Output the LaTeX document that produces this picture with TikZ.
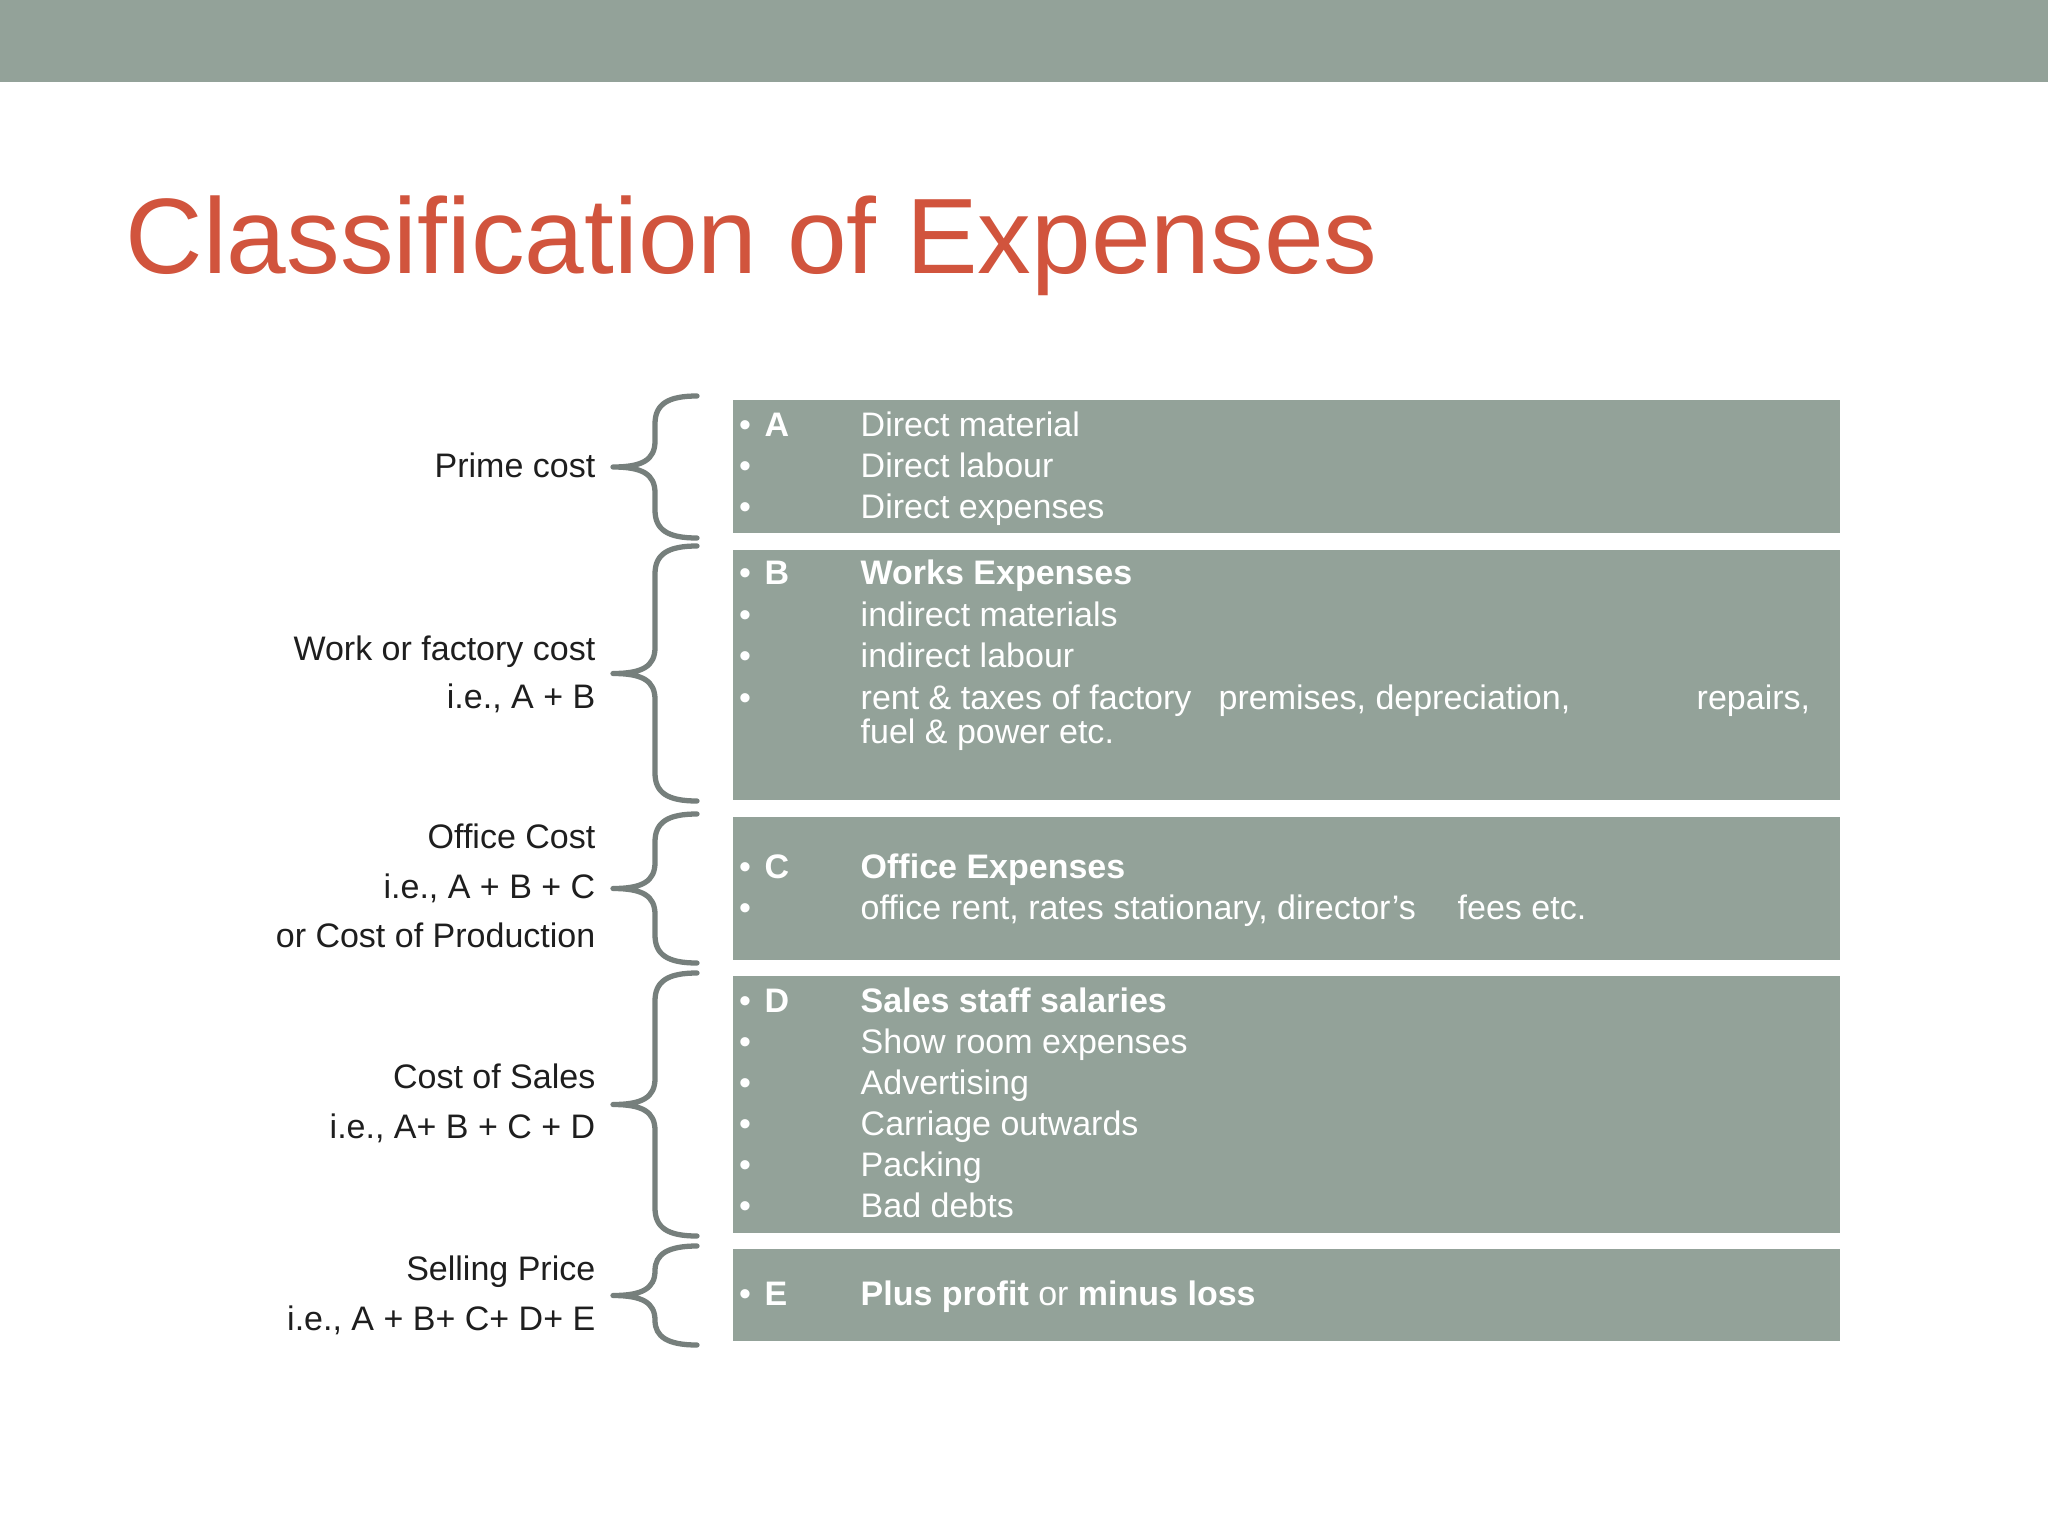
\documentclass[tikz,border=0pt]{standalone}
\usepackage{fontspec}
\setmainfont{Liberation Sans}
\definecolor{slate}{RGB}{147,162,153}
\definecolor{titlered}{RGB}{209,84,61}
\definecolor{bracegray}{RGB}{118,127,124}
\definecolor{labelgray}{RGB}{30,30,30}
\newcommand\bodyfont{\fontsize{9.67pt}{11pt}\selectfont}
\tikzset{
  box/.style={fill=slate, draw=none, inner sep=0pt, outer sep=0pt, anchor=north west, minimum width=11.06cm},
  bodytext/.style={text=white, font=\bodyfont, anchor=base west, inner sep=0pt},
  bul/.style={text=white, font=\bodyfont, anchor=base, inner sep=0pt},
  lbl/.style={text=labelgray, font=\bodyfont, anchor=base east, inner sep=0pt},
  bracestyle/.style={draw=bracegray, line width=1.5pt, line cap=round, line join=round},
}
\newcommand\drawbrace[2]{%
  \pgfmathsetmacro\bm{(#1+#2)/2}%
  \pgfmathsetmacro\ct{min(28,(#2-#1)/4)}%
  \pgfmathsetmacro\cm{min(26,(#2-#1)/4)}%
  \draw[bracestyle] (697,#1) .. controls (668,#1) and (655,#1+8) .. (655,#1+\ct)
    -- (655,\bm-\cm) .. controls (655,\bm-7) and (642,\bm) .. (613,\bm)
    .. controls (642,\bm) and (655,\bm+7) .. (655,\bm+\cm)
    -- (655,#2-\ct) .. controls (655,#2-8) and (668,#2) .. (697,#2);
}
\begin{document}
\begin{tikzpicture}[x=0.01cm,y=-0.01cm]
\fill[white] (0,0) rectangle (2048,1536);
\path[use as bounding box] (0,0) rectangle (2048,1536);
\fill[slate] (0,0) rectangle (2048,82);

\node[text=titlered, font=\fontsize{30.5pt}{36pt}\selectfont, anchor=base west, inner sep=0pt] (title) at (125,273) {Classification of Expenses};

% boxes
\node[box, minimum height=1.33cm] (boxA) at (733,400) {};
\node[box, minimum height=2.50cm] (boxB) at (733,550) {};
\node[box, minimum height=1.43cm] (boxC) at (733,817) {};
\node[box, minimum height=2.57cm] (boxD) at (733,976) {};
\node[box, minimum height=0.92cm] (boxE) at (733,1249) {};

% box A
\node[bul] (ba1) at (745,436) {•};
\node[bodytext] (la) at (764,436) {\bfseries A};
\node[bodytext] (ta1) at (860,436) {Direct material};
\node[bul] (ba2) at (745,477) {•};
\node[bodytext] (ta2) at (860,477) {Direct labour};
\node[bul] (ba3) at (745,518) {•};
\node[bodytext] (ta3) at (860,518) {Direct expenses};

% box B
\node[bul] (bb1) at (745,584) {•};
\node[bodytext] (lb) at (764,584) {\bfseries B};
\node[bodytext] (tb1) at (860,584) {\bfseries Works Expenses};
\node[bul] (bb2) at (745,626) {•};
\node[bodytext] (tb2) at (860,626) {indirect materials};
\node[bul] (bb3) at (745,667) {•};
\node[bodytext] (tb3) at (860,667) {indirect labour};
\node[bul] (bb4) at (745,709) {•};
\node[bodytext] (tb4a) at (860,709) {rent \& taxes of factory};
\node[bodytext] (tb4b) at (1218,709) {premises, depreciation,};
\node[bodytext] (tb4c) at (1696,709) {repairs,};
\node[bodytext] (tb5) at (860,743) {fuel \& power etc.};

% box C
\node[bul] (bc1) at (745,878) {•};
\node[bodytext] (lc) at (764,878) {\bfseries C};
\node[bodytext] (tc1) at (860,878) {\bfseries Office Expenses};
\node[bul] (bc2) at (745,919) {•};
\node[bodytext] (tc2a) at (860,919) {office rent, rates stationary, director’s};
\node[bodytext] (tc2b) at (1457,919) {fees etc.};

% box D
\node[bul] (bd1) at (745,1012) {•};
\node[bodytext] (ld) at (764,1012) {\bfseries D};
\node[bodytext] (td1) at (860,1012) {\bfseries Sales staff salaries};
\node[bul] (bd2) at (745,1053) {•};
\node[bodytext] (td2) at (860,1053) {Show room expenses};
\node[bul] (bd3) at (745,1094) {•};
\node[bodytext] (td3) at (860,1094) {Advertising};
\node[bul] (bd4) at (745,1135) {•};
\node[bodytext] (td4) at (860,1135) {Carriage outwards};
\node[bul] (bd5) at (745,1176) {•};
\node[bodytext] (td5) at (860,1176) {Packing};
\node[bul] (bd6) at (745,1217) {•};
\node[bodytext] (td6) at (860,1217) {Bad debts};

% box E
\node[bul] (be1) at (745,1305) {•};
\node[bodytext] (le) at (764,1305) {\bfseries E};
\node[bodytext] (te1) at (860,1305) {\textbf{Plus profit} or \textbf{minus loss}};

% labels
\node[lbl] (p1) at (596,477) {Prime cost};
\node[lbl] (w1) at (596,660) {Work or factory cost};
\node[lbl] (w2) at (596,708) {i.e., A + B};
\node[lbl] (o1) at (596,848) {Office Cost};
\node[lbl] (o2) at (596,898) {i.e., A + B + C};
\node[lbl] (o3) at (596,947) {or Cost of Production};
\node[lbl] (s1) at (596,1088) {Cost of Sales};
\node[lbl] (s2) at (596,1138) {i.e., A+ B + C + D};
\node[lbl] (e1) at (596,1280) {Selling Price};
\node[lbl] (e2) at (596,1330) {i.e., A + B+ C+ D+ E};

% braces
\drawbrace{396}{538}
\drawbrace{546}{801}
\drawbrace{814}{963}
\drawbrace{973}{1236}
\drawbrace{1246}{1345}
\end{tikzpicture}
\end{document}
